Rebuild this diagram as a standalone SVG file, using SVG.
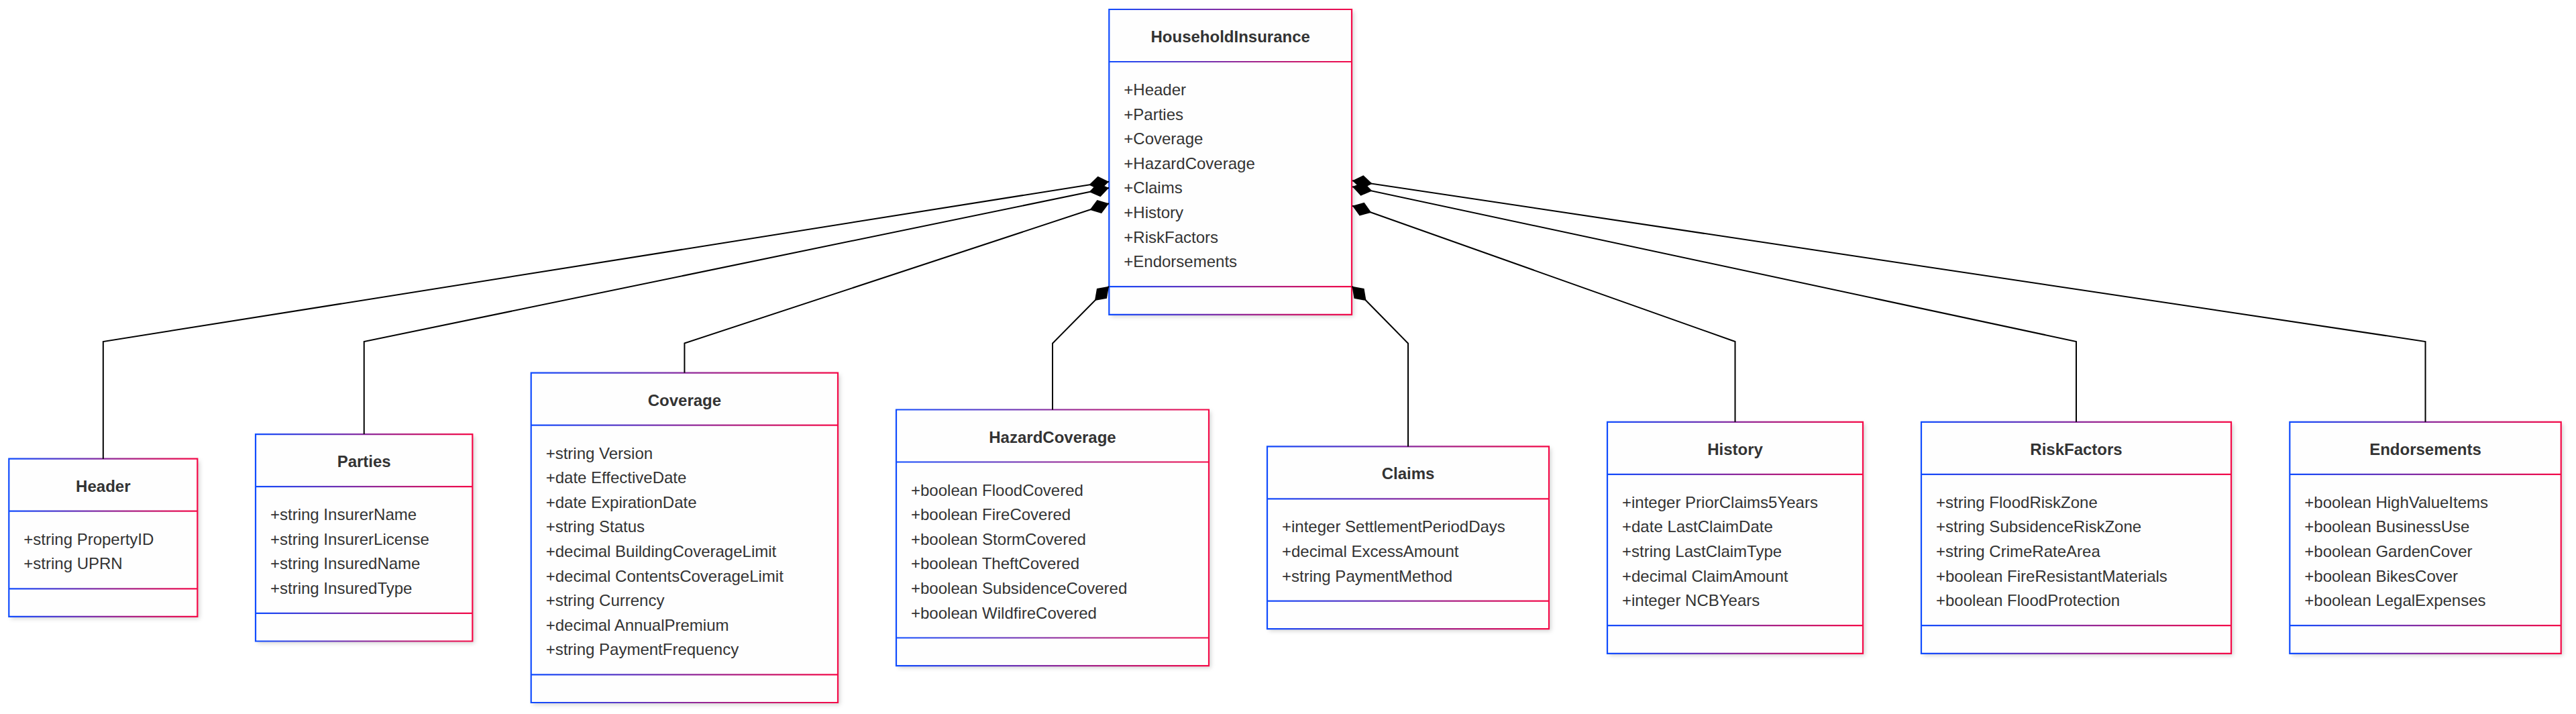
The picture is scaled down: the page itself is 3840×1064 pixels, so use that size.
<svg xmlns="http://www.w3.org/2000/svg" width="3840" height="1064" viewBox="0 0 3840 1064">
<defs>
<linearGradient id="g" x1="0" y1="0" x2="1" y2="0">
<stop offset="0" stop-color="#104cff"/>
<stop offset="0.5" stop-color="#8a2a9e"/>
<stop offset="1" stop-color="#f50a48"/>
</linearGradient>
<filter id="sh" x="-10%" y="-10%" width="130%" height="130%">
<feDropShadow dx="3" dy="3" stdDeviation="3" flood-color="#000" flood-opacity="0.18"/>
</filter>
<marker id="diamond" markerUnits="userSpaceOnUse" markerWidth="32" markerHeight="24" viewBox="0 -12 32 24" refX="0" refY="0" orient="auto">
<path d="M0,0 L15,-10.5 L30,0 L15,10.5 Z" fill="#000"/>
</marker>
</defs>
<style>
.bg{fill:#fefefe;filter:url(#sh);}
.bd{fill:none;stroke:url(#g);stroke-width:2.2;}
.title{font-family:"Liberation Sans",Arial,sans-serif;font-size:24px;font-weight:bold;fill:#333;text-anchor:middle;}
.attr{font-family:"Liberation Sans",Arial,sans-serif;font-size:24px;fill:#333;}
.edge{fill:none;stroke:#000;stroke-width:2;marker-start:url(#diamond);}
</style>
<rect width="3840" height="1064" fill="#fff"/>

<g id="HouseholdInsurance">
<rect class="bg" x="1653.3" y="14" width="361.7" height="454.8"/>
<path class="bd" d="M1653.3,14 h361.7 v454.8 h-361.7 Z M1653.3,92 h361.7 M1653.3,427.2 h361.7"/>
<text class="title" x="1834.2" y="63">HouseholdInsurance</text>
<text class="attr"><tspan x="1675.3" y="142">+Header</tspan><tspan x="1675.3" y="178.6">+Parties</tspan><tspan x="1675.3" y="215.2">+Coverage</tspan><tspan x="1675.3" y="251.8">+HazardCoverage</tspan><tspan x="1675.3" y="288.4">+Claims</tspan><tspan x="1675.3" y="325">+History</tspan><tspan x="1675.3" y="361.6">+RiskFactors</tspan><tspan x="1675.3" y="398.2">+Endorsements</tspan></text>
</g>

<g id="Header">
<rect class="bg" x="13.3" y="683.7" width="281" height="235.2"/>
<path class="bd" d="M13.3,683.7 h281 v235.2 h-281 Z M13.3,761.7 h281 M13.3,877.3 h281"/>
<text class="title" x="153.8" y="732.7">Header</text>
<text class="attr"><tspan x="35.3" y="811.7">+string PropertyID</tspan><tspan x="35.3" y="848.3">+string UPRN</tspan></text>
</g>

<g id="Parties">
<rect class="bg" x="381" y="647.1" width="323.3" height="308.4"/>
<path class="bd" d="M381,647.1 h323.3 v308.4 h-323.3 Z M381,725.1 h323.3 M381,913.9 h323.3"/>
<text class="title" x="542.7" y="696.1">Parties</text>
<text class="attr"><tspan x="403" y="775.1">+string InsurerName</tspan><tspan x="403" y="811.7">+string InsurerLicense</tspan><tspan x="403" y="848.3">+string InsuredName</tspan><tspan x="403" y="884.9">+string InsuredType</tspan></text>
</g>

<g id="Coverage">
<rect class="bg" x="791.7" y="555.6" width="457.3" height="491.4"/>
<path class="bd" d="M791.7,555.6 h457.3 v491.4 h-457.3 Z M791.7,633.6 h457.3 M791.7,1005.4 h457.3"/>
<text class="title" x="1020.4" y="604.6">Coverage</text>
<text class="attr"><tspan x="813.7" y="683.6">+string Version</tspan><tspan x="813.7" y="720.2">+date EffectiveDate</tspan><tspan x="813.7" y="756.8">+date ExpirationDate</tspan><tspan x="813.7" y="793.4">+string Status</tspan><tspan x="813.7" y="830">+decimal BuildingCoverageLimit</tspan><tspan x="813.7" y="866.6">+decimal ContentsCoverageLimit</tspan><tspan x="813.7" y="903.2">+string Currency</tspan><tspan x="813.7" y="939.8">+decimal AnnualPremium</tspan><tspan x="813.7" y="976.4">+string PaymentFrequency</tspan></text>
</g>

<g id="HazardCoverage">
<rect class="bg" x="1336" y="610.5" width="466" height="381.6"/>
<path class="bd" d="M1336,610.5 h466 v381.6 h-466 Z M1336,688.5 h466 M1336,950.5 h466"/>
<text class="title" x="1569" y="659.5">HazardCoverage</text>
<text class="attr"><tspan x="1358" y="738.5">+boolean FloodCovered</tspan><tspan x="1358" y="775.1">+boolean FireCovered</tspan><tspan x="1358" y="811.7">+boolean StormCovered</tspan><tspan x="1358" y="848.3">+boolean TheftCovered</tspan><tspan x="1358" y="884.9">+boolean SubsidenceCovered</tspan><tspan x="1358" y="921.5">+boolean WildfireCovered</tspan></text>
</g>

<g id="Claims">
<rect class="bg" x="1889" y="665.4" width="420" height="271.8"/>
<path class="bd" d="M1889,665.4 h420 v271.8 h-420 Z M1889,743.4 h420 M1889,895.6 h420"/>
<text class="title" x="2099" y="714.4">Claims</text>
<text class="attr"><tspan x="1911" y="793.4">+integer SettlementPeriodDays</tspan><tspan x="1911" y="830">+decimal ExcessAmount</tspan><tspan x="1911" y="866.6">+string PaymentMethod</tspan></text>
</g>

<g id="History">
<rect class="bg" x="2396" y="628.8" width="381" height="345"/>
<path class="bd" d="M2396,628.8 h381 v345 h-381 Z M2396,706.8 h381 M2396,932.2 h381"/>
<text class="title" x="2586.5" y="677.8">History</text>
<text class="attr"><tspan x="2418" y="756.8">+integer PriorClaims5Years</tspan><tspan x="2418" y="793.4">+date LastClaimDate</tspan><tspan x="2418" y="830">+string LastClaimType</tspan><tspan x="2418" y="866.6">+decimal ClaimAmount</tspan><tspan x="2418" y="903.2">+integer NCBYears</tspan></text>
</g>

<g id="RiskFactors">
<rect class="bg" x="2864" y="628.8" width="462" height="345"/>
<path class="bd" d="M2864,628.8 h462 v345 h-462 Z M2864,706.8 h462 M2864,932.2 h462"/>
<text class="title" x="3095" y="677.8">RiskFactors</text>
<text class="attr"><tspan x="2886" y="756.8">+string FloodRiskZone</tspan><tspan x="2886" y="793.4">+string SubsidenceRiskZone</tspan><tspan x="2886" y="830">+string CrimeRateArea</tspan><tspan x="2886" y="866.6">+boolean FireResistantMaterials</tspan><tspan x="2886" y="903.2">+boolean FloodProtection</tspan></text>
</g>

<g id="Endorsements">
<rect class="bg" x="3413.3" y="628.8" width="404.4" height="345"/>
<path class="bd" d="M3413.3,628.8 h404.4 v345 h-404.4 Z M3413.3,706.8 h404.4 M3413.3,932.2 h404.4"/>
<text class="title" x="3615.5" y="677.8">Endorsements</text>
<text class="attr"><tspan x="3435.3" y="756.8">+boolean HighValueItems</tspan><tspan x="3435.3" y="793.4">+boolean BusinessUse</tspan><tspan x="3435.3" y="830">+boolean GardenCover</tspan><tspan x="3435.3" y="866.6">+boolean BikesCover</tspan><tspan x="3435.3" y="903.2">+boolean LegalExpenses</tspan></text>
</g>

<g id="connectors">
<path class="edge" d="M1653,270.7 L153.8,509 L153.8,683.7"/>
<path class="edge" d="M1653,280 L542.7,509 L542.7,647.1"/>
<path class="edge" d="M1653,303.3 L1020.4,511.5 L1020.4,555.6"/>
<path class="edge" d="M1653,426.7 L1569,511.7 L1569,610.5"/>
<path class="edge" d="M2015.5,426.7 L2099,511.7 L2099,665.4"/>
<path class="edge" d="M2016,306.7 L2586.5,509 L2586.5,628.8"/>
<path class="edge" d="M2016,278.3 L3095,509 L3095,628.8"/>
<path class="edge" d="M2016,269.3 L3615.5,509 L3615.5,628.8"/>
</g>
</svg>
